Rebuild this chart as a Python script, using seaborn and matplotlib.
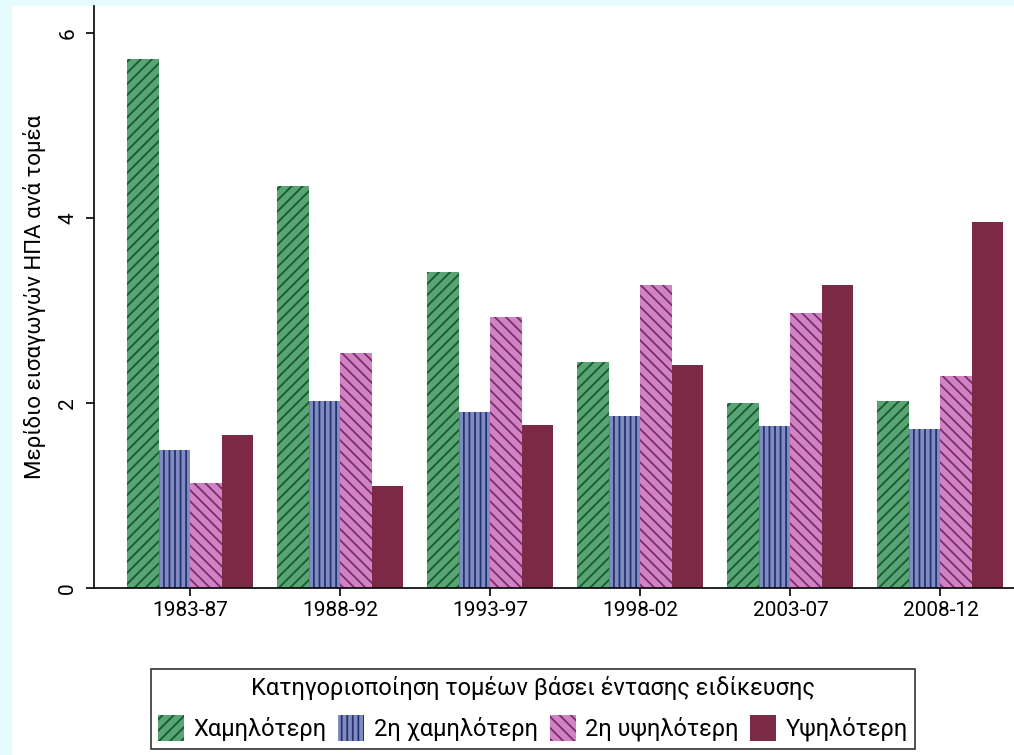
import numpy as np
import pandas as pd
import matplotlib
matplotlib.use("Agg")
import matplotlib.pyplot as plt
import seaborn as sns
from matplotlib.patches import Rectangle

periods = ["1983-87", "1988-92", "1993-97", "1998-02", "2003-07", "2008-12"]
groups = ["Χαμηλότερη", "2η χαμηλότερη", "2η υψηλότερη", "Υψηλότερη"]
lowest      = [5.72, 4.34, 3.41, 2.44, 2.00, 2.02]
second_low  = [1.49, 2.02, 1.90, 1.86, 1.75, 1.72]
second_high = [1.135, 2.54, 2.93, 3.27, 2.97, 2.29]
highest     = [1.65, 1.10, 1.76, 2.41, 3.28, 3.96]

fills   = ["#56a572", "#7f8cc3", "#d282c4", "#7b2944"]
hatchc  = ["#1c5632", "#27316c", "#763067", "#7b2944"]
hatches = ["///", "|||", "\\\\\\", ""]

df = pd.DataFrame({
    "period": periods * 4,
    "group": np.repeat(groups, len(periods)),
    "share": lowest + second_low + second_high + highest,
})

sns.set_style("ticks")
plt.rcParams["font.family"] = ["Roboto", "DejaVu Sans"]
plt.rcParams["hatch.linewidth"] = 1.3
plt.rcParams["text.color"] = "black"

fig = plt.figure(figsize=(10.14, 7.55), dpi=100, facecolor="#e6fbfe")
# white panel inside the light cyan frame
fig.patches.append(Rectangle((12 / 1014, 0), 1, 749 / 755, transform=fig.transFigure,
                             facecolor="white", edgecolor="none", zorder=-1))
ax = fig.add_axes([94 / 1014, 167 / 755, 920 / 1014, 582 / 755])
ax.set_facecolor("white")

sns.barplot(data=df, x="period", y="share", hue="group", hue_order=groups,
            palette=fills, width=0.84, ax=ax, legend=False, saturation=1)

for cont, fc, hc, h in zip(ax.containers, fills, hatchc, hatches):
    for bar in cont:
        bar.set_facecolor(fc)
        bar.set_edgecolor(hc)
        bar.set_linewidth(0)
        bar.set_hatch(h)

ax.set_xlim(-0.64, 5.49)
ax.set_ylim(0, 6.29)
ax.set_yticks([0, 2, 4, 6])
ax.set_yticklabels(["0", "2", "4", "6"], rotation=90, va="center")
ax.tick_params(axis="both", direction="out", length=6, width=1.2, labelsize=15,
               colors="black", labelcolor="black")
ax.tick_params(axis="y", pad=6)
ax.set_xlabel("")
ax.set_ylabel("Μερίδιο εισαγωγών ΗΠΑ ανά τομέα", fontsize=16, labelpad=9, color="black")
sns.despine(ax=ax)
for s in ["left", "bottom"]:
    ax.spines[s].set_linewidth(1.2)
    ax.spines[s].set_color("black")

handles = [cont.patches[0] for cont in ax.containers]
leg = fig.legend(handles, groups, loc="upper center", bbox_to_anchor=(533 / 1014, 1 - 657 / 755),
                 ncol=4, title="Κατηγοριοποίηση τομέων βάσει έντασης ειδίκευσης",
                 fontsize=17, title_fontsize=17, frameon=True, fancybox=False,
                 edgecolor="black", handlelength=1.1, handleheight=1.3,
                 handletextpad=0.4, columnspacing=0.5, borderpad=0.3, labelspacing=0.5)
leg.get_frame().set_linewidth(1.2)
leg._legend_box.sep = 11
for t in leg.get_texts():
    t.set_color("black")
leg.get_title().set_color("black")

fig.savefig("out.png", dpi=100, facecolor=fig.get_facecolor())
